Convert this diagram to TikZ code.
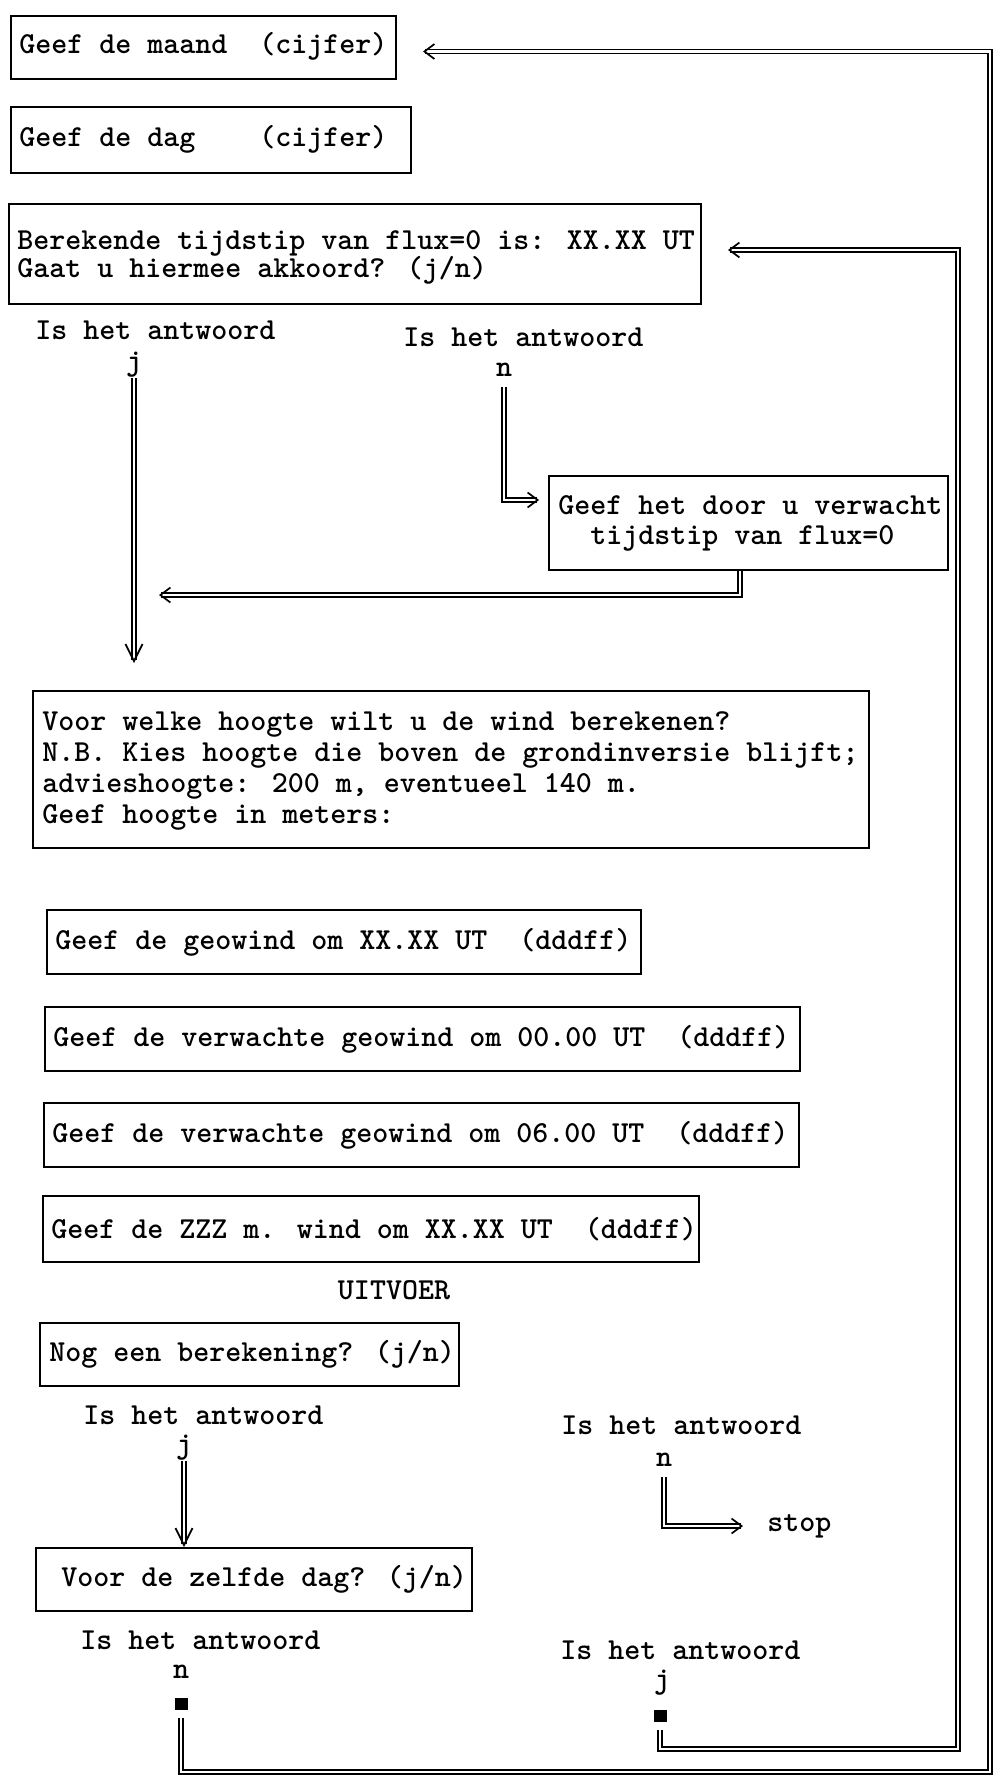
\documentclass[tikz,border=0pt]{standalone}
\usepackage{fontspec}
\newcommand\dfont{\ttfamily\bfseries\fontsize{15.24}{15.5}\selectfont}
\usetikzlibrary{arrows.meta,calc}
\begin{document}
\begin{tikzpicture}[x=0.5pt,y=-0.5pt,
  box/.style={draw, line width=1pt, anchor=north west, inner sep=0pt},
  txt/.style={inner sep=0pt, anchor=west, align=left, font=\dfont},
  lbl/.style={inner sep=0pt, font=\dfont},
  dbl/.style={double, line width=0.75pt, double distance=1.4pt},
  harr/.style={dbl, -{Straight Barb[length=5pt,width=7.5pt,line width=0.85pt]}},
  varr/.style={dbl, -{Straight Barb[length=8.5pt,width=8.5pt,line width=0.85pt]}},
  sq/.style={fill, minimum width=6.5pt, minimum height=6pt, inner sep=0pt}
]
\useasboundingbox (0,0) rectangle (1000,1787);

% boxes
\node[box, minimum width=192.5pt, minimum height=31.5pt] (B1) at (10,15) {};
\node[txt] (B1t) at ($(B1.west)+(9,-1)$) {Geef de maand~~(cijfer)};
\node[box, minimum width=200pt, minimum height=33pt] (B2) at (10,106) {};
\node[txt] (B2t) at ($(B2.west)+(9,-1)$) {Geef de dag~~~~(cijfer)};
\node[box, minimum width=346pt, minimum height=50pt] (B3) at (8,203) {};
\node[txt, font=\dfont\fontsize{15.24}{14}\selectfont] (B3t) at ($(B3.north west)+(9,54)$) {Berekende tijdstip van flux=0 is: XX.XX UT\\Gaat u hiermee akkoord? (j/n)};
\node[box, minimum width=199.5pt, minimum height=47pt] (B4) at (548,475) {};
\node[txt, font=\dfont\fontsize{15.24}{15}\selectfont] (B4t) at ($(B4.west)+(10,0)$) {Geef het door u verwacht\\~~tijdstip van flux=0};
\node[box, minimum width=418pt, minimum height=78.5pt] (B5) at (32,690) {};
\node[txt] (B5t) at ($(B5.north west)+(10,81)$) {Voor welke hoogte wilt u de wind berekenen?\\N.B. Kies hoogte die boven de grondinversie blijft;\\advieshoogte: 200 m, eventueel 140 m.\\Geef hoogte in meters:};
\node[box, minimum width=297pt, minimum height=32pt] (B6) at (46,909) {};
\node[txt] (B6t) at ($(B6.west)+(9,0)$) {Geef de geowind om XX.XX UT~~(dddff)};
\node[box, minimum width=377.5pt, minimum height=32pt] (B7) at (44,1006) {};
\node[txt] (B7t) at ($(B7.west)+(9,0)$) {Geef de verwachte geowind om 00.00 UT~~(dddff)};
\node[box, minimum width=377.5pt, minimum height=32pt] (B8) at (43,1102) {};
\node[txt] (B8t) at ($(B8.west)+(9,0)$) {Geef de verwachte geowind om 06.00 UT~~(dddff)};
\node[box, minimum width=328pt, minimum height=33pt] (B9) at (42,1195) {};
\node[txt] (B9t) at ($(B9.west)+(9,0)$) {Geef de ZZZ m. wind om XX.XX UT~~(dddff)};
\node[lbl] (uit) at (394,1290) {UITVOER};
\node[box, minimum width=209.5pt, minimum height=31.5pt] (B10) at (39,1322) {};
\node[txt] (B10t) at ($(B10.west)+(10,0)$) {Nog een berekening? (j/n)};
\node[box, minimum width=218pt, minimum height=31.5pt] (B11) at (35,1547) {};
\node[txt] (B11t) at ($(B11.west)+(26,0)$) {Voor de zelfde dag? (j/n)};

% labels
\node[lbl, anchor=west] (q1) at (35,330) {Is het antwoord};
\node[lbl] (j1) at (134,365) {j};
\node[lbl, anchor=west] (q2) at (403,337) {Is het antwoord};
\node[lbl] (n2) at (504,370) {n};
\node[lbl, anchor=west] (q4) at (83,1415) {Is het antwoord};
\node[lbl] (j4) at (184,1448) {j};
\node[lbl, anchor=west] (q5) at (561,1425) {Is het antwoord};
\node[lbl] (n5) at (664,1460) {n};
\node[lbl, anchor=west] (stop) at (767,1526) {stop};
\node[lbl, anchor=west] (q6) at (80,1640) {Is het antwoord};
\node[lbl] (n6) at (181,1672) {n};
\node[sq] (s1) at (181,1704) {};
\node[lbl, anchor=west] (q7) at (560,1650) {Is het antwoord};
\node[lbl] (j7) at (662,1683) {j};
\node[sq] (s2) at (660,1716) {};

\coordinate (t1) at (132,663);
\coordinate (t2) at (159,595);
\coordinate (oc) at (990,1772);
\coordinate (ic) at (958,1749);

% connectors
\draw[varr] (j1.south) -- (j1.south |- t1);
\draw[harr] ([yshift=-5pt]n2.south) |- ($(B4.north west)+(-9,25)$);
\draw[harr] ($(B4.south west)+(192,0)$) |- (t2);
\draw[varr] (j4.south) -- (j4.south |- B11.north);
\draw[harr] ([yshift=-5pt]n5.south) |- ($(stop.west)+(-24,0)$);
\draw[harr] ([yshift=-4pt]s1.south) |- (oc) |- ($(B1.east)+(26,4)$);
\draw[harr] ([yshift=-4pt]s2.south) |- (ic) |- ($(B3.east)+(26,-4)$);
\end{tikzpicture}
\end{document}
